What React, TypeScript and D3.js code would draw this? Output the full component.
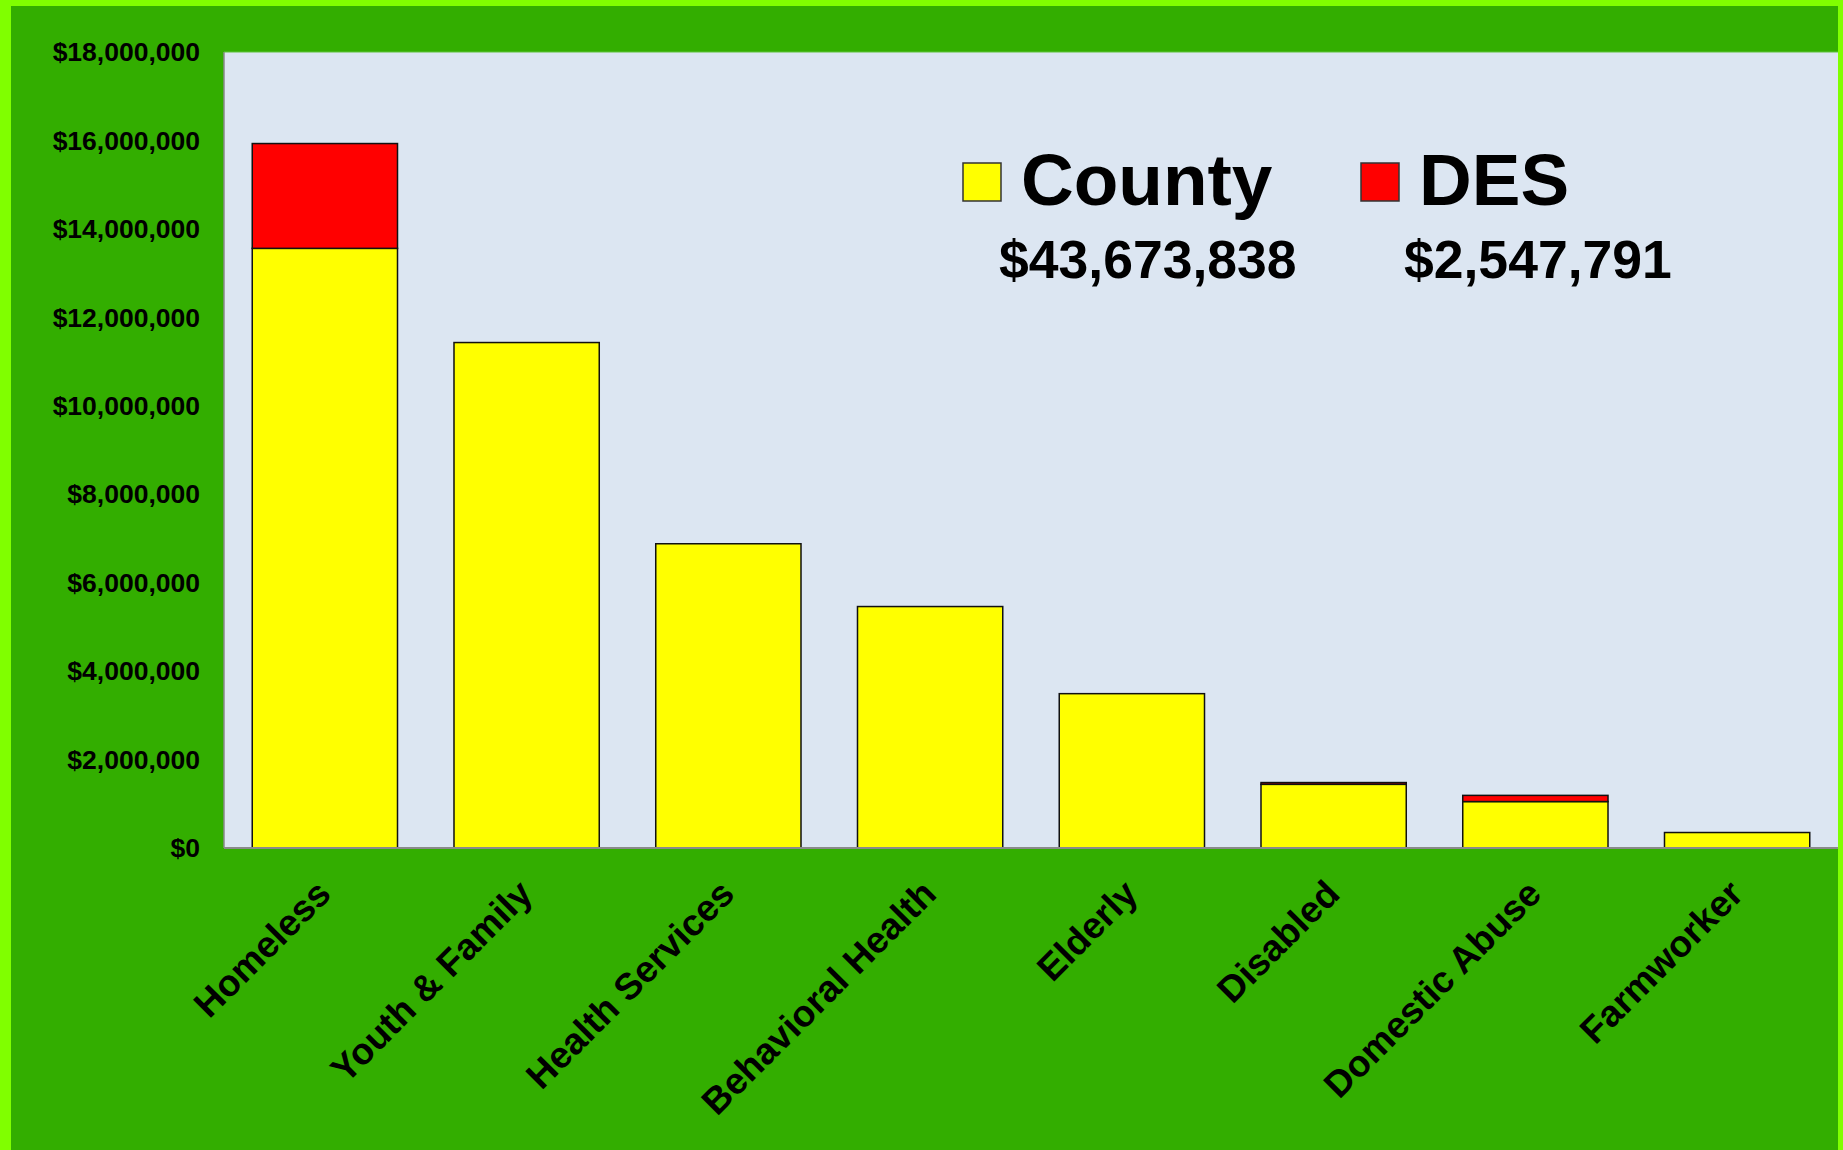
import React from "react";
import * as d3 from "d3";

const categories = [
  "Homeless",
  "Youth & Family",
  "Health Services",
  "Behavioral Health",
  "Elderly",
  "Disabled",
  "Domestic Abuse",
  "Farmworker",
];
const countyValues = [13560000, 11430000, 6880000, 5460000, 3490000, 1440000, 1050000, 350000];
const desValues = [2370000, 0, 0, 0, 0, 40000, 140000, 0];
const yTickValues = [0, 2000000, 4000000, 6000000, 8000000, 10000000, 12000000, 14000000, 16000000, 18000000];
const seriesNames = ["County", "DES"];
const seriesTotals = ["$43,673,838", "$2,547,791"];
const seriesColors = ["#ffff00", "#ff0000"];

const W = 1843;
const H = 1150;
const FONT = "'Liberation Sans', Arial, Helvetica, sans-serif";

export default function App() {
  const plotL = 224, plotR = 1838, plotT = 52, plotB = 848;
  const x = d3.scaleBand<string>().domain(categories).range([plotL, plotR]).paddingInner(0.28).paddingOuter(0.14);
  const y = d3.scaleLinear().domain([0, 18000000]).range([plotB, plotT]);
  const fmt = d3.format(",");

  const stackData = categories.map((c, i) => ({ cat: c, County: countyValues[i], DES: desValues[i] }));
  const stack = d3.stack<any>().keys(seriesNames)(stackData);

  const legendX = [963, 1361];
  return (
    <svg width={W} height={H} style={{ position: "absolute", left: 0, top: 0, display: "block" }} fontFamily={FONT}>
      <rect x={0} y={0} width={W} height={H} fill="#80ff00" />
      <rect x={11} y={6} width={1827} height={H - 6} fill="#33ae00" />
      <rect x={plotL} y={plotT} width={plotR - plotL} height={plotB - plotT} fill="#dce6f2" />
      <line x1={plotL} x2={plotL} y1={plotT} y2={plotB} stroke="#8a8a8a" strokeWidth={1.5} />
      <line x1={plotL} x2={plotR} y1={plotT} y2={plotT} stroke="#5fc23a" strokeWidth={1} />

      {stack.map((layer, si) =>
        layer.map((d, i) => {
          const h = y(d[0]) - y(d[1]);
          if (h <= 0) return null;
          return (
            <rect
              key={si + "-" + i}
              x={x(categories[i])}
              y={y(d[1])}
              width={x.bandwidth()}
              height={h}
              fill={seriesColors[si]}
              stroke="#111"
              strokeWidth={1.5}
            />
          );
        })
      )}
      <line x1={plotL} x2={plotR} y1={plotB} y2={plotB} stroke="#8a8a8a" strokeWidth={2} />

      {yTickValues.map((v) => (
        <text key={v} x={200} y={y(v)} dy="0.35em" textAnchor="end" fontSize={26.5} fontWeight="bold" fill="#000">
          {"$" + fmt(v)}
        </text>
      ))}

      {categories.map((c) => {
        const cx = (x(c) as number) + x.bandwidth() / 2;
        return (
          <text
            key={c}
            transform={`translate(${cx + 8},${896}) rotate(-45)`}
            textAnchor="end"
            fontSize={37}
            fontWeight="bold"
            fill="#000"
          >
            {c}
          </text>
        );
      })}

      {seriesNames.map((s, i) => (
        <g key={s}>
          <rect x={legendX[i]} y={163} width={38} height={38} fill={seriesColors[i]} stroke="#333" strokeWidth={1.5} />
          <text x={legendX[i] + 58} y={205} fontSize={73} fontWeight="bold" fill="#000">
            {s}
          </text>
          <text x={i === 0 ? 999 : 1404} y={278} fontSize={53.5} fontWeight="bold" fill="#000">
            {seriesTotals[i]}
          </text>
        </g>
      ))}
    </svg>
  );
}
